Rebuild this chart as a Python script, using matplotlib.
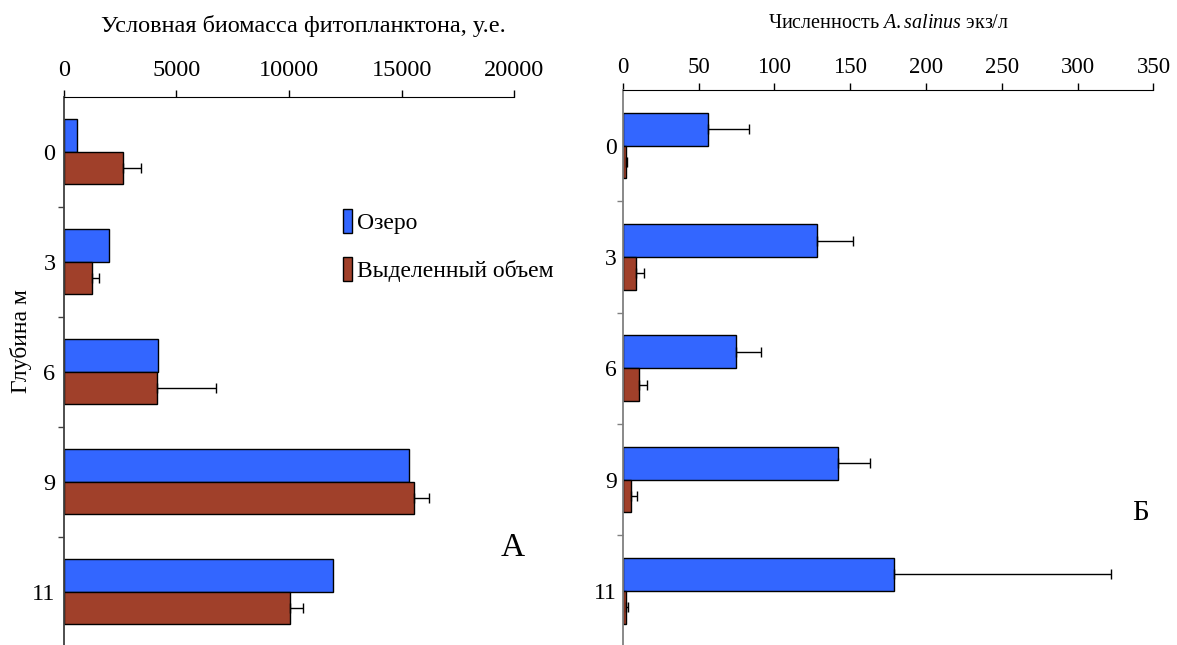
import numpy as np
import matplotlib.pyplot as plt
from matplotlib.ticker import FixedLocator, NullFormatter

plt.rcParams['font.family'] = ['Liberation Serif', 'DejaVu Serif']
plt.rcParams['mathtext.fontset'] = 'custom'
plt.rcParams['mathtext.it'] = 'Liberation Serif:italic'
plt.rcParams['mathtext.rm'] = 'Liberation Serif'

# глубины отбора проб
depths = ['0', '3', '6', '9', '11']

# условная биомасса фитопланктона, у.е.
bio_lake = [600, 2000, 4200, 15300, 11950]
bio_vol = [2620, 1250, 4150, 15550, 10050]
bio_vol_err = [800, 330, 2600, 640, 570]

# численность A.salinus, экз/л
num_lake = [56, 128, 75, 142, 179]
num_lake_err = [27, 24, 16, 21, 143]
num_vol = [2.3, 9, 11, 5.3, 2.3]
num_vol_err = [0.8, 4.8, 5.3, 3.8, 1.2]

blue = '#3366ff'
red = '#a0402a'
h = 0.295
y = np.arange(len(depths))

fig = plt.figure(figsize=(11.77, 6.45), dpi=100)
axA = fig.add_axes([0.0541, -0.0026, 0.3830, 0.8527])
axB = fig.add_axes([0.5291, -0.0023, 0.4509, 0.8628])


def style(ax, spine_col, xfs, yfs, xpad, ypad):
    ax.set_ylim(len(depths) - 0.5, -0.5)
    ax.xaxis.tick_top()
    ax.xaxis.set_label_position('top')
    for s in ['right', 'bottom']:
        ax.spines[s].set_visible(False)
    ax.spines['top'].set_color('black')
    ax.spines['left'].set_color(spine_col)
    ax.spines['left'].set_linewidth(1.3)
    ax.tick_params(axis='x', direction='out', length=5, width=1, pad=xpad,
                   labelsize=xfs)
    ax.set_yticks(y)
    ax.set_yticklabels(depths)
    ax.tick_params(axis='y', which='major', length=0, pad=ypad,
                   labelsize=yfs)
    ax.yaxis.set_minor_locator(FixedLocator(np.arange(0.5, len(depths) - 1, 1)))
    ax.yaxis.set_minor_formatter(NullFormatter())
    ax.tick_params(axis='y', which='minor', direction='out', length=4,
                   width=1, color=spine_col)


ekw = dict(ecolor='black', elinewidth=1, capsize=3.3, capthick=1)

# панель А
axA.barh(y - h / 2, bio_lake, height=h, color=blue, edgecolor='black',
         linewidth=1, label='Озеро')
axA.barh(y + h / 2, bio_vol, height=h, color=red, edgecolor='black',
         linewidth=1, label='Выделенный объем')
axA.errorbar(bio_vol, y + h / 2, xerr=[np.zeros(5), bio_vol_err],
             fmt='none', **ekw)
axA.set_xlim(0, 20000)
axA.set_xticks([0, 5000, 10000, 15000, 20000])
style(axA, '#404040', 17.5, 17.5, 6.5, 5.8)
axA.set_xlabel('Условная биомасса фитопланктона, у.е.', fontsize=17.5,
               labelpad=20)
axA.xaxis.label.set_x(0.532)
axA.set_ylabel('Глубина м', fontsize=17)
axA.yaxis.set_label_coords(-0.071, 0.556)
axA.legend(loc='upper left', bbox_to_anchor=(0.291, 0.676),
           bbox_transform=fig.transFigure, frameon=False, fontsize=17,
           handlelength=0.42, handleheight=1.2, handletextpad=0.2,
           labelspacing=0.98, borderpad=0, borderaxespad=0)
axA.text(0.995, 0.18, 'А', transform=axA.transAxes, fontsize=24,
         ha='center', va='center')

# панель Б
axB.barh(y - h / 2, num_lake, height=h, color=blue, edgecolor='black',
         linewidth=1)
axB.barh(y + h / 2, num_vol, height=h, color=red, edgecolor='black',
         linewidth=1)
axB.errorbar(num_lake, y - h / 2, xerr=[np.zeros(5), num_lake_err],
             fmt='none', **ekw)
axB.errorbar(num_vol, y + h / 2, xerr=[np.zeros(5), num_vol_err],
             fmt='none', **ekw)
axB.set_xlim(0, 350)
axB.set_xticks(np.arange(0, 351, 50))
style(axB, '#808080', 16.5, 17, 3.5, 4.3)
axB.set_xlabel('Численность $\\mathit{A.salinus}$ экз/л', fontsize=14.5,
               labelpad=21)
axB.text(0.975, 0.24, 'Б', transform=axB.transAxes, fontsize=21,
         ha='center', va='center')

fig.savefig('out.png', dpi=100)
